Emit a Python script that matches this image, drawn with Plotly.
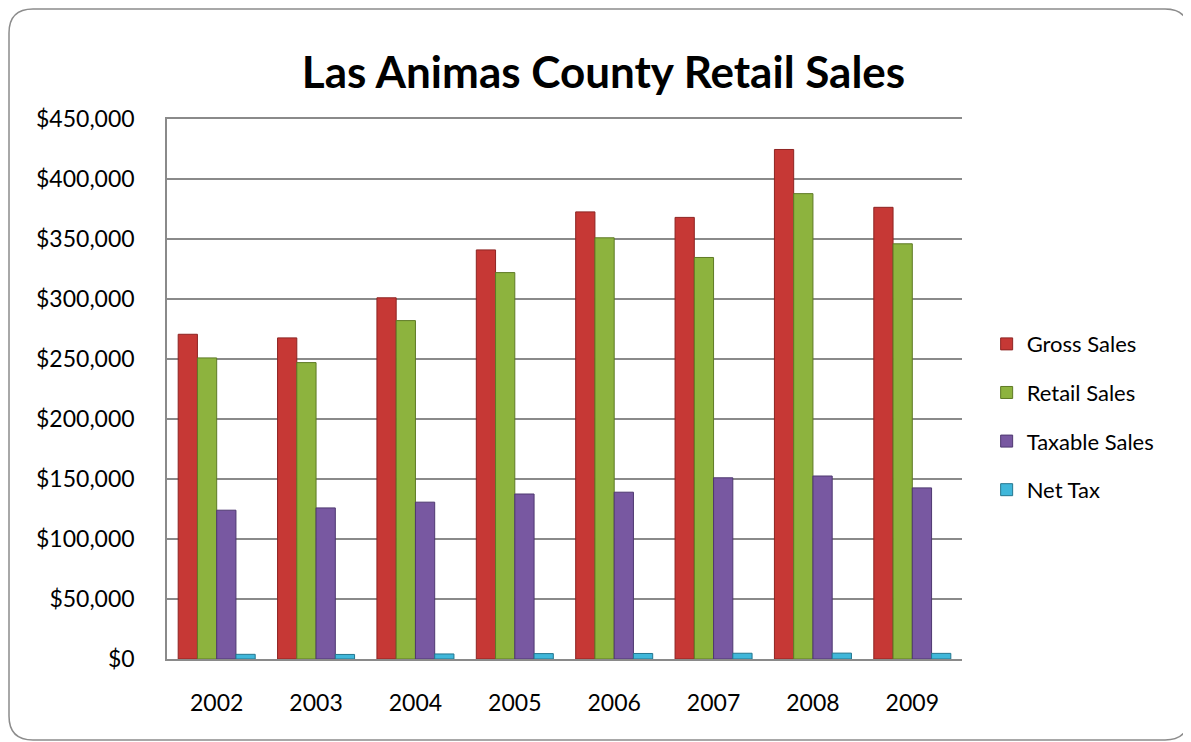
import plotly.graph_objects as go

years = ["2002", "2003", "2004", "2005", "2006", "2007", "2008", "2009"]
gross_sales = [270600, 267600, 301000, 340900, 372600, 368000, 424600, 376400]
retail_sales = [250900, 247000, 282000, 322000, 351000, 334600, 387800, 346000]
taxable_sales = [124000, 125900, 130700, 137500, 139000, 151000, 152500, 142600]
net_tax = [3900, 3800, 4200, 4500, 4600, 4800, 4900, 4700]

series = [
    ("Gross Sales", gross_sales, "#C63835", "#8E2422"),
    ("Retail Sales", retail_sales, "#8DB33E", "#5E7A25"),
    ("Taxable Sales", taxable_sales, "#7858A1", "#4E3870"),
    ("Net Tax", net_tax, "#40B7DA", "#24768F"),
]

FONT = "Lato, 'Open Sans', sans-serif"

fig = go.Figure()
for name, vals, col, edge in series:
    fig.add_trace(go.Bar(
        x=years, y=vals, name=name, legendgroup=name,
        marker=dict(color=col, line=dict(color=edge, width=1)),
    ))

# figure pixel geometry (page body adds an 8px offset on screen)
W, H = 1191, 742
L, R, T, B = 159, 954, 111, 651

def px(x):
    return (x - L) / (R - L)

def py(y):
    return (B - y) / (B - T)

# rounded outer border
x0, x1, y0, y1, r = 1, 1181, 1, 732, 24
path = (
    f"M {px(x0 + r)},{py(y0)} L {px(x1 - r)},{py(y0)} "
    f"Q {px(x1)},{py(y0)} {px(x1)},{py(y0 + r)} "
    f"L {px(x1)},{py(y1 - r)} Q {px(x1)},{py(y1)} {px(x1 - r)},{py(y1)} "
    f"L {px(x0 + r)},{py(y1)} Q {px(x0)},{py(y1)} {px(x0)},{py(y1 - r)} "
    f"L {px(x0)},{py(y0 + r)} Q {px(x0)},{py(y0)} {px(x0 + r)},{py(y0)} Z"
)

fig.update_layout(
    width=W, height=H,
    margin=dict(l=L, r=W - R, t=T, b=H - B, pad=0),
    paper_bgcolor="white", plot_bgcolor="white",
    barmode="group", bargap=0.225, bargroupgap=0.0,
    title=dict(text="<b>Las Animas County Retail Sales</b>", x=0.5, xanchor="center",
               y=1 - 65 / H, yanchor="middle",
               font=dict(family=FONT, size=44, color="black")),
    font=dict(family=FONT, size=22, color="black"),
    legend=dict(x=1.031, xanchor="left", y=0.448, yanchor="middle",
                font=dict(family=FONT, size=22), tracegroupgap=17,
                bgcolor="rgba(0,0,0,0)"),
    shapes=[dict(type="path", xref="paper", yref="paper", path=path,
                 line=dict(color="#8C8C8C", width=1.5), layer="below")],
    showlegend=True,
)
fig.update_yaxes(range=[0, 450000], dtick=50000, tickprefix="$", tickformat=",.0f",
                 showgrid=True, gridcolor="#8A8A8A", gridwidth=1.5,
                 zeroline=False, showline=True, linecolor="#8A8A8A", linewidth=1.5,
                 ticks="", ticklabelstandoff=26,
                 tickfont=dict(family=FONT, size=23))
fig.update_xaxes(showline=True, mirror=True, linecolor="#8A8A8A", linewidth=1.5, ticks="",
                 tickfont=dict(family=FONT, size=23), ticklabelstandoff=23)

fig.write_html("out.html")
